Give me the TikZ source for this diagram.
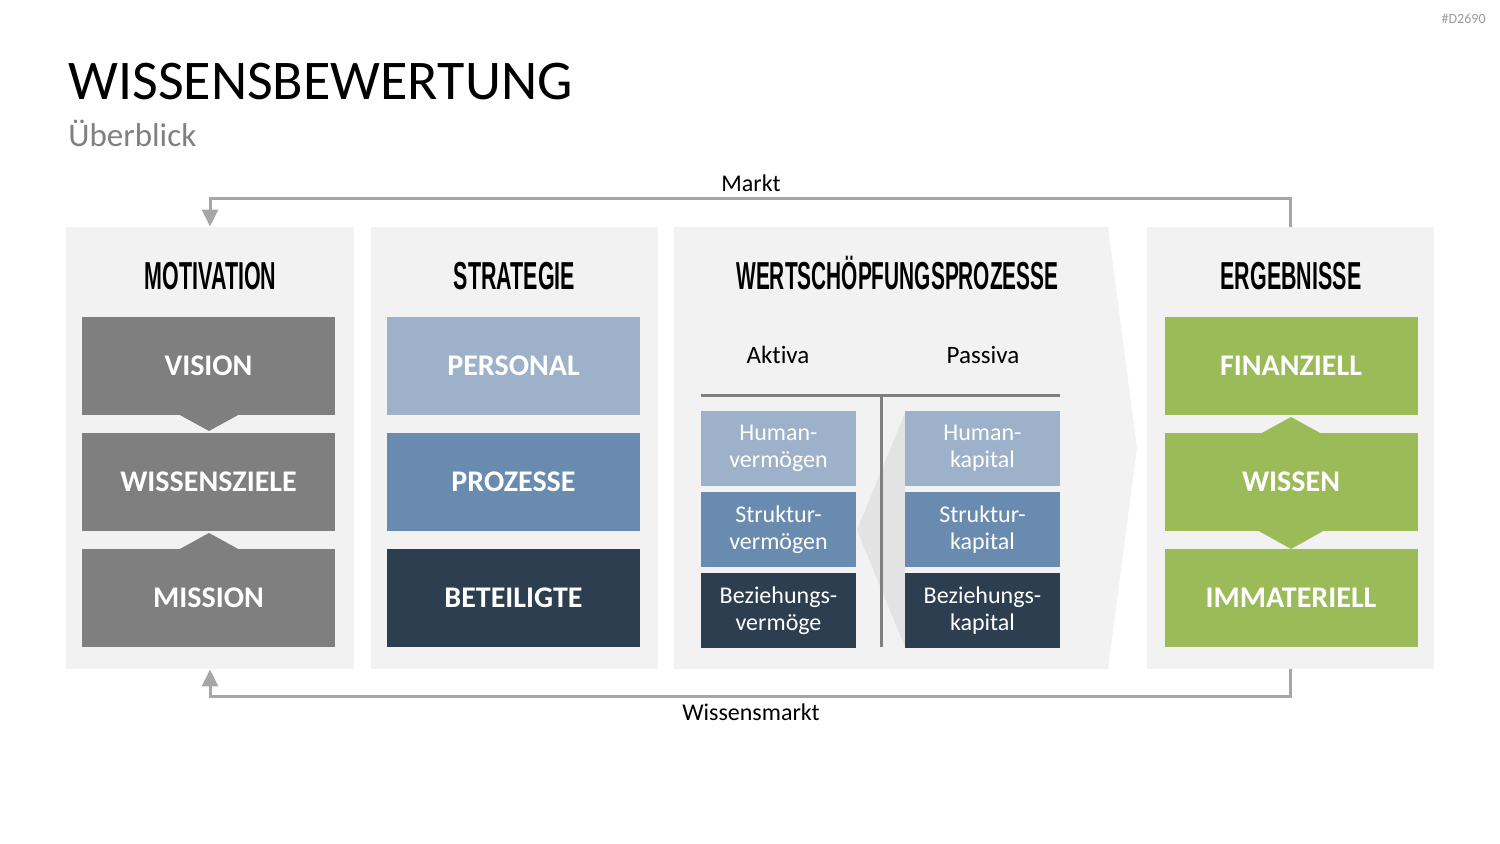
\documentclass[tikz,border=0pt]{standalone}
\usepackage{fontspec}
\setmainfont{Carlito}[Ligatures={NoCommon}]
\newfontfamily\headfont{Liberation Sans}
\usetikzlibrary{arrows.meta,calc}
\definecolor{panelbg}{HTML}{F2F2F2}
\definecolor{greyA}{HTML}{7F7F7F}
\definecolor{blueL}{HTML}{9DB2CA}
\definecolor{blueM}{HTML}{6A8BB0}
\definecolor{blueD}{HTML}{2D3E50}
\definecolor{greenA}{HTML}{9BBB59}
\definecolor{lineg}{HTML}{A6A6A6}
\definecolor{subg}{HTML}{808080}
\definecolor{shadeg}{HTML}{E3E3E3}
\begin{document}
\begin{tikzpicture}[x=0.5pt,y=-0.5pt,
  panel/.style={fill=panelbg,draw=none,inner sep=0pt,minimum height=221pt},
  bigbox/.style={draw=none,inner sep=0pt,minimum width=126.5pt,minimum height=49pt,text=white,font=\fontsize{15}{18}\selectfont\bfseries},
  smallbox/.style={draw=none,inner sep=0pt,minimum width=77.5pt,minimum height=37.5pt,text=white,align=center,font=\fontsize{12}{13.35}\selectfont},
  head/.style={inner sep=0pt,anchor=base,font=\headfont\fontsize{19.5}{20}\selectfont\bfseries},
  conn/.style={draw=lineg,line width=1.5pt},
  lbl/.style={inner sep=0pt,font=\fontsize{12}{14}\selectfont}
]
\useasboundingbox (0,0) rectangle (1500,844);
% title
\node[inner sep=0pt,anchor=base west,font=\fontsize{28}{30}\selectfont] (title) at (68,100) {WISSENSBEWERTUNG};
\node[inner sep=0pt,anchor=base west,text=subg,font=\fontsize{16.5}{18}\selectfont] (sub) at (68,147) {Überblick};
\node[inner sep=0pt,anchor=base east,text=subg!80,font=\fontsize{7}{8}\selectfont] (code) at (1486,24) {\#D2690};
% panels
\node[panel,minimum width=144pt] (mot) at (210,448) {};
\node[panel,minimum width=143.5pt] (str) at (514.5,448) {};
\node[panel,minimum width=143.5pt] (erg) at (1290.5,448) {};
\fill[panelbg] (674,227) -- (1108,227) -- (1137,448) -- (1108,669) -- (674,669) -- cycle;
\coordinate (wert) at (891,448);
% headers
\node[head] (hmot) at (210.5,290) {\scalebox{0.55}[1]{MOTIVATION}};
\node[head] (hstr) at (514.5,290) {\scalebox{0.55}[1]{STRATEGIE}};
\node[head] (hwert) at (897.5,290) {\scalebox{0.535}[1]{WERTSCHÖPFUNGSPROZESSE}};
\node[head] (herg) at (1291,290) {\scalebox{0.55}[1]{ERGEBNISSE}};
% motivation
\node[bigbox,fill=greyA] (vision) at (208.5,366) {VISION};
\node[bigbox,fill=greyA] (ziele) at (208.5,482) {WISSENSZIELE};
\node[bigbox,fill=greyA] (mission) at (208.5,598) {MISSION};
\fill[greyA] (178,414) -- (240,414) -- (209,431) -- cycle;
\fill[greyA] (178,550) -- (240,550) -- (209,533) -- cycle;
% strategie
\node[bigbox,fill=blueL] (personal) at (513.5,366) {PERSONAL};
\node[bigbox,fill=blueM] (prozesse) at (513.5,482) {PROZESSE};
\node[bigbox,fill=blueD] (beteiligte) at (513.5,598) {BETEILIGTE};
% ergebnisse
\node[bigbox,fill=greenA] (finanz) at (1291,366) {FINANZIELL};
\node[bigbox,fill=greenA] (wissen) at (1291,482) {WISSEN};
\node[bigbox,fill=greenA] (immat) at (1291,598) {IMMATERIELL};
\fill[greenA] (1260,434) -- (1322,434) -- (1291,417) -- cycle;
\fill[greenA] (1257,530) -- (1325,530) -- (1291,549) -- cycle;
% wertschoepfung
\fill[shadeg] (857,530) -- (905,413) -- (905,647) -- cycle;
\node[lbl,font=\fontsize{12.5}{14}\selectfont] (aktiva) at (778,355) {Akt\kern0pt iva};
\node[lbl,font=\fontsize{12.5}{14}\selectfont] (passiva) at (983,355) {Passiva};
\draw[greyA,line width=1.5pt] (701,396) -- (1060,396);
\draw[greyA,line width=1.5pt] (881,396) -- (881,647);
\node[smallbox,fill=blueL] (hv) at (778.5,448.5) {Human-\\vermögen};
\node[smallbox,fill=blueM] (sv) at (778.5,529.5) {Struktur-\\vermögen};
\node[smallbox,fill=blueD] (bv) at (778.5,610.5) {Beziehungs-\\vermöge};
\node[smallbox,fill=blueL] (hk) at (982.5,448.5) {Human-\\kapital};
\node[smallbox,fill=blueM] (sk) at (982.5,529.5) {Struktur-\\kapital};
\node[smallbox,fill=blueD] (bk) at (982.5,610.5) {Beziehungs-\\kapital};
% connectors
\draw[conn,-{Triangle[length=8.5pt,width=8pt]}] (erg.north) -- ($(erg.north)+(0,-28)$) -| (mot.north);
\draw[conn,-{Triangle[length=8.5pt,width=8pt]}] (erg.south) -- ($(erg.south)+(0,27)$) -| (mot.south);
\node[lbl] (markt) at (751,183) {Markt};
\node[lbl] (wmarkt) at (751,712) {Wissensmarkt};
\end{tikzpicture}
\end{document}
